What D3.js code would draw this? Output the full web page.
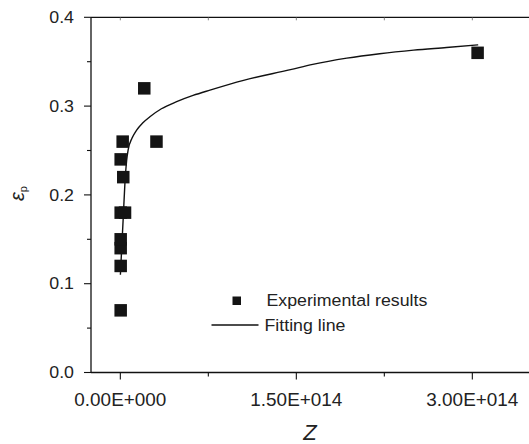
<!DOCTYPE html>
<html><head><meta charset="utf-8">
<script src="https://cdn.jsdelivr.net/npm/d3@7"></script>
<style>
body{margin:0;background:#fff;}
svg{display:block;}
text{font-family:"Liberation Sans",Arial,sans-serif;fill:#222;}
</style></head><body>
<svg id="c" width="529" height="444"></svg>
<script>
// Experimental points (Z, epsilon_p)
const expZ   = [0.3e12, 0.3e12, 0.3e12, 0.3e12, 0.3e12, 4.0e12, 2.5e12, 0.3e12, 2.0e12, 3.08e13, 2.04e13, 3.045e14];
const expEps = [0.07,   0.12,   0.14,   0.15,   0.18,   0.18,   0.22,   0.24,   0.26,   0.26,    0.32,    0.36];
// Fitting line
const fitZ   = [0.5e11, 1.1e12, 2.5e12, 3.9e12, 5.4e12, 6.7e12, 1.0e13, 1.39e13, 1.9e13, 2.52e13, 3.5e13, 4.8e13, 6.2e13, 7.64e13, 1.05e14, 1.45e14, 1.64e14, 1.93e14, 2.21e14, 2.50e14, 2.78e14, 3.05e14];
const fitEps = [0.11,   0.138,  0.175,  0.213,  0.239,  0.251,  0.264,  0.273,   0.281,  0.288,   0.297,  0.305,  0.312,  0.318,   0.329,   0.341,   0.347,   0.354,   0.359,   0.363,   0.366,   0.369];
const xTicks = [0, 1.5e14, 3.0e14];
const xTickLabels = ["0.00E+000", "1.50E+014", "3.00E+014"];
const xMinor = [0.75e14, 2.25e14];
const yTicks = [0, 0.1, 0.2, 0.3, 0.4];
const yTickLabels = ["0.0", "0.1", "0.2", "0.3", "0.4"];
const yMinor = [0.05, 0.15, 0.25, 0.35];
const legendLabels = ["Experimental results", "Fitting line"];

const svg = d3.select("#c");
const L = 91, R = 531, T = 17.3, B = 372.5;
const x = d3.scaleLinear().domain([-2.5e13, 3.5e14]).range([L, R]);
const y = d3.scaleLinear().domain([0, 0.4]).range([B, T]);
const ink = "#111";

const ax = svg.append("g").attr("stroke", ink).attr("stroke-width", 1.3);
ax.append("line").attr("x1", L).attr("x2", L).attr("y1", T).attr("y2", B);
ax.append("line").attr("x1", L).attr("x2", 529).attr("y1", B).attr("y2", B);
ax.append("line").attr("x1", L).attr("x2", 529).attr("y1", T).attr("y2", T);

const tk = svg.append("g").attr("stroke", ink).attr("stroke-width", 1.1);
yTicks.forEach(v => tk.append("line").attr("x1", L - 7).attr("x2", L).attr("y1", y(v)).attr("y2", y(v)));
yMinor.forEach(v => tk.append("line").attr("x1", L - 4).attr("x2", L).attr("y1", y(v)).attr("y2", y(v)));
xTicks.forEach(v => tk.append("line").attr("x1", x(v)).attr("x2", x(v)).attr("y1", B).attr("y2", B + 7));
xMinor.forEach(v => tk.append("line").attr("x1", x(v)).attr("x2", x(v)).attr("y1", B).attr("y2", B + 4));
xTicks.concat(xMinor).forEach(v => tk.append("line").attr("x1", x(v)).attr("x2", x(v)).attr("y1", T).attr("y2", T + 3).attr("stroke-width", 0.8).attr("stroke", "#666"));

function stretch(sel, k) {
  sel.each(function() { const w = this.getComputedTextLength(); d3.select(this).attr("textLength", w * k).attr("lengthAdjust", "spacingAndGlyphs"); });
}

const yl = svg.append("g").selectAll("text").data(yTicks).join("text")
  .attr("x", 74).attr("y", d => y(d) + 5.7).attr("text-anchor", "end")
  .attr("font-size", 16).text((d, i) => yTickLabels[i]);
stretch(yl, 1.11);

const xl = svg.append("g").selectAll("text").data(xTicks).join("text")
  .attr("x", d => x(d)).attr("y", 405.5).attr("text-anchor", "middle")
  .attr("font-size", 17.5).text((d, i) => xTickLabels[i]);
stretch(xl, 1.08);

svg.append("text").attr("x", 310).attr("y", 440).attr("text-anchor", "middle")
  .attr("font-size", 22).attr("font-style", "italic").text("Z");
const yt = svg.append("text").attr("transform", "translate(24,201) rotate(-90)")
  .attr("font-family", "'DejaVu Serif', 'Liberation Serif', serif");
yt.append("tspan").attr("font-size", 20).attr("font-style", "italic").text("ε");
yt.append("tspan").attr("font-size", 11).attr("dy", 3).attr("font-family", "'Liberation Sans', Arial, sans-serif").text("p");

const line = d3.line().x((d, i) => x(fitZ[i])).y((d, i) => y(fitEps[i])).curve(d3.curveMonotoneX);
svg.append("path").datum(fitZ).attr("d", line).attr("fill", "none").attr("stroke", ink).attr("stroke-width", 1.4);

const S = 12.5;
svg.append("g").selectAll("rect").data(expZ).join("rect")
  .attr("x", (d, i) => x(d) - S / 2).attr("y", (d, i) => y(expEps[i]) - S / 2)
  .attr("width", S).attr("height", S).attr("fill", "#141414");

svg.append("rect").attr("x", 232.5).attr("y", 296.5).attr("width", 8.5).attr("height", 8.5).attr("fill", "#141414");
svg.append("line").attr("x1", 211.5).attr("x2", 258.5).attr("y1", 325).attr("y2", 325).attr("stroke", ink).attr("stroke-width", 1.3);
const lg = svg.append("g").selectAll("text").data(legendLabels).join("text")
  .attr("x", (d, i) => i === 0 ? 266.5 : 264.5).attr("y", (d, i) => i === 0 ? 306 : 331)
  .attr("font-size", 16.3).text(d => d);
stretch(lg, 1.09);
</script></body></html>
